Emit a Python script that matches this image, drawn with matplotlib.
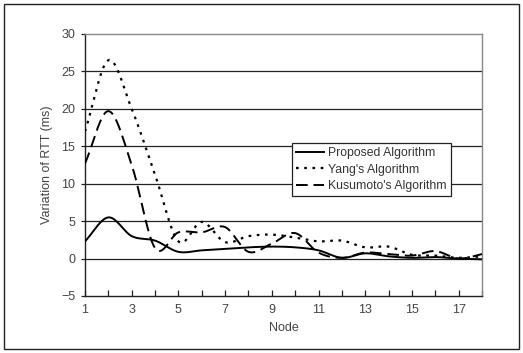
import numpy as np
import matplotlib
matplotlib.use("Agg")
import matplotlib.pyplot as plt
from matplotlib.patches import Rectangle

nodes = list(range(1, 19))
proposed = [2.3, 5.5, 3.0, 2.4, 0.9, 1.1, 1.3, 1.5, 1.6, 1.5, 1.1, 0.1, 0.7, 0.3, 0.1, 0.2, 0.0, -0.1]
yang = [17.0, 26.5, 20.0, 11.2, 2.3, 4.9, 2.2, 3.0, 3.2, 2.8, 2.3, 2.4, 1.5, 1.6, 0.5, 0.4, 0.1, 0.3]
kusumoto = [12.7, 19.7, 12.5, 1.4, 3.5, 3.5, 4.2, 0.9, 2.0, 3.4, 0.8, 0.1, 0.8, 0.6, 0.4, 1.0, 0.0, 0.6]
labels = ["Proposed Algorithm", "Yang's Algorithm", "Kusumoto's Algorithm"]


def smooth(x, y, n=20):
    x = np.asarray(x, float)
    y = np.asarray(y, float)
    px = np.concatenate([[2 * x[0] - x[1]], x, [2 * x[-1] - x[-2]]])
    py = np.concatenate([[2 * y[0] - y[1]], y, [2 * y[-1] - y[-2]]])
    xs, ys = [], []
    for i in range(1, len(px) - 2):
        t = np.linspace(0, 1, n, endpoint=False)
        for arr, out in ((px, xs), (py, ys)):
            p0, p1, p2, p3 = arr[i - 1], arr[i], arr[i + 1], arr[i + 2]
            out.extend(0.5 * ((2 * p1) + (-p0 + p2) * t + (2 * p0 - 5 * p1 + 4 * p2 - p3) * t ** 2
                              + (-p0 + 3 * p1 - 3 * p2 + p3) * t ** 3))
    xs.append(x[-1]); ys.append(y[-1])
    return np.array(xs), np.array(ys)


plt.rcParams['font.family'] = ['Liberation Sans', 'DejaVu Sans']
fig = plt.figure(figsize=(5.23, 3.53), dpi=100)
fig.patches.append(Rectangle((4 / 523, 4 / 353), 515 / 523, 345 / 353, transform=fig.transFigure,
                             fill=False, edgecolor='#222222', linewidth=1.0))
ax = fig.add_axes([85 / 523, 57 / 353, 397 / 523, 262 / 353])

txtc = '#444444'
for v in [0, 5, 10, 15, 20, 25]:
    ax.axhline(v, color='#222222', linewidth=0.9, zorder=1)

sx, sy = smooth(nodes, proposed)
ax.plot(sx, sy, color='black', linewidth=1.4, label=labels[0], zorder=3)
sx, sy = smooth(nodes, yang)
ax.plot(sx, sy, color='black', linewidth=1.6, linestyle=(0, (1.2, 2.5)), label=labels[1], zorder=3)
sx, sy = smooth(nodes, kusumoto)
ax.plot(sx, sy, color='black', linewidth=1.4, linestyle=(0, (6, 3)), label=labels[2], zorder=3)

ax.set_xlim(1, 18)
ax.set_ylim(-5, 30)
ax.set_xticks(range(1, 19))
ax.set_xticklabels([str(n) if n % 2 == 1 else '' for n in range(1, 19)])
ax.set_yticks(range(-5, 31, 5))
ax.set_yticklabels(['\u22125' if v < 0 else str(v) for v in range(-5, 31, 5)])
ax.tick_params(axis='x', direction='in', length=4, width=0.9, colors='#222222', labelcolor=txtc,
               labelsize=9, pad=6)
ax.tick_params(axis='y', direction='out', length=3, width=0.9, colors='#222222', labelcolor=txtc,
               labelsize=9, pad=4)
for s in ['left', 'bottom']:
    ax.spines[s].set_color('#222222')
    ax.spines[s].set_linewidth(1.0)
for s in ['top', 'right']:
    ax.spines[s].set_color('#888888')
    ax.spines[s].set_linewidth(1.0)

ax.set_xlabel('Node', color=txtc, fontsize=9, labelpad=4)
ax.set_ylabel('Variation of RTT (ms)', color=txtc, fontsize=9, labelpad=6)

leg = ax.legend(loc='upper left', bbox_to_anchor=((292 - 85) / 397, (296 - 143) / 262),
                fancybox=False, framealpha=1, edgecolor='#222222', fontsize=8.8,
                handlelength=2.3, handletextpad=0.3, borderpad=0.35, labelspacing=0.35,
                borderaxespad=0)
leg.get_frame().set_linewidth(0.9)
for t in leg.get_texts():
    t.set_color('#333333')

fig.savefig('out.png', dpi=100)
